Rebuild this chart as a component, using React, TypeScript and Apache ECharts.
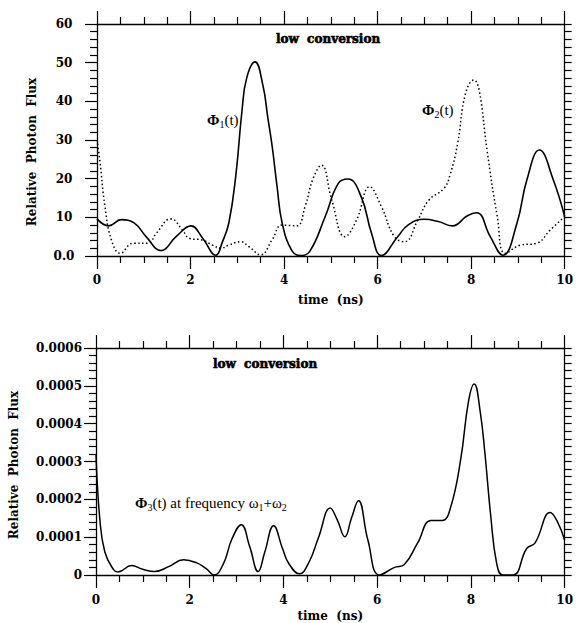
import React, { useEffect, useRef } from "react";
import * as echarts from "echarts";

// ---- data ----
const phi1T = [0, 0.25, 0.52, 0.8, 1.05, 1.37, 1.69, 2.01, 2.26, 2.54, 2.68, 2.82, 2.97, 3.1, 3.2, 3.38, 3.55, 3.65, 3.75, 3.85, 3.96, 4.17, 4.35, 4.55, 4.88, 5.16, 5.37, 5.65, 5.87, 6.08, 6.43, 6.65, 7.0, 7.3, 7.6, 7.92, 8.12, 8.41, 8.68, 8.98, 9.19, 9.46, 9.76, 10];
const phi1V = [9.6, 7.8, 9.4, 8.5, 5.0, 1.4, 5.0, 7.8, 4.6, 0.2, 3.6, 8.6, 21.0, 37.5, 46, 50.2, 44, 36, 28, 18, 8.5, 1.3, 0.1, 1.2, 10.2, 18.8, 19.9, 15.3, 5.9, 0.1, 5.0, 8.0, 9.5, 8.9, 7.8, 10.4, 11.2, 5.0, 0.2, 8.5, 19.6, 27.4, 19.6, 10.2];

const phi2T = [0, 0.06, 0.17, 0.31, 0.5, 0.77, 1.09, 1.27, 1.58, 1.83, 1.97, 2.26, 2.47, 2.65, 2.82, 3.07, 3.25, 3.5, 3.74, 3.96, 4.27, 4.45, 4.62, 4.8, 5.02, 5.3, 5.55, 5.83, 6.08, 6.36, 6.58, 6.86, 7.1, 7.42, 7.55, 7.71, 7.88, 8.06, 8.17, 8.34, 8.56, 8.73, 9.05, 9.4, 9.69, 10];
const phi2V = [30, 24.8, 12.8, 4.1, 0.7, 3.3, 3.3, 5.9, 9.6, 6.7, 4.6, 4.1, 2.8, 2.0, 2.8, 3.7, 2.4, 0.3, 4.1, 8.0, 7.8, 12.8, 20, 23.5, 14.5, 5.0, 9.3, 17.9, 12.8, 5.0, 3.7, 9.3, 14.5, 17.5, 21, 29, 42, 45.5, 43, 27.4, 10.2, 0.7, 2.8, 3.3, 6.7, 10.2];

const phi3T = [0, 0.08, 0.19, 0.37, 0.47, 0.76, 1.0, 1.25, 1.55, 1.87, 2.15, 2.35, 2.52, 2.72, 2.9, 3.1, 3.28, 3.46, 3.6, 3.79, 3.98, 4.11, 4.34, 4.55, 4.75, 5.0, 5.15, 5.31, 5.45, 5.6, 5.8, 6.05, 6.37, 6.58, 6.86, 7.15, 7.39, 7.57, 7.78, 7.95, 8.07, 8.2, 8.3, 8.42, 8.55, 8.68, 8.9, 9.19, 9.37, 9.69, 9.85, 10];
const phi3V = [0.00032, 0.00015, 0.00006, 0.000015, 0.000008, 0.000025, 0.000015, 0.000009, 0.000022, 0.00004, 0.000032, 0.000017, 0, 0.00003, 0.000095, 0.000133, 0.000075, 0.000009, 0.00006, 0.00013, 0.00007, 0.000031, 0.000003, 0.000035, 0.0001, 0.000177, 0.000145, 0.000101, 0.00015, 0.000196, 0.000093, 0, 0.00002, 0.000028, 0.000084, 0.000144, 0.000144, 0.00018, 0.000304, 0.00046, 0.000505, 0.00043, 0.00032, 0.00016, 0.00003, 0, 0, 0.00007, 0.000085, 0.000165, 0.00014, 0.000092];

const xTicks = [0, 10, 2];
const topY = [0, 60, 10];
const botY = [0, 0.0006, 0.0001];

const AX_FONT = "DejaVu Serif";
const TX_FONT = "Liberation Serif";

const pairs = (t: number[], v: number[]) => t.map((x, i) => [x, v[i]]);

const lineBlack = { color: "#000", width: 1.3 };
const tickStyle = { color: "#000", width: 1.2 };

function xAx(grid: number, position: "top" | "bottom", labels: boolean, margin: number) {
  return {
    type: "value",
    gridIndex: grid,
    position,
    min: xTicks[0],
    max: xTicks[1],
    interval: xTicks[2],
    axisLine: { show: true, onZero: false, lineStyle: lineBlack },
    axisTick: { show: true, inside: false, length: 13, lineStyle: tickStyle },
    minorTick: { show: true, splitNumber: 4, length: 7, lineStyle: tickStyle },
    splitLine: { show: false },
    minorSplitLine: { show: false },
    axisLabel: { show: labels, fontFamily: AX_FONT, fontWeight: "bold", fontSize: 12, color: "#000", margin },
    name: labels ? "time\u00a0\u00a0(ns)" : "",
    nameLocation: "middle",
    nameGap: position === "bottom" ? (grid === 0 ? 44 : 41) : 0,
    nameTextStyle: { fontFamily: AX_FONT, fontWeight: "bold", fontSize: 12, color: "#000", verticalAlign: "middle" },
  };
}

function yLeft(grid: number, r: number[], fmt: (v: number) => string, align: string, margin: number) {
  return {
    type: "value",
    gridIndex: grid,
    position: "left",
    min: r[0],
    max: r[1],
    interval: r[2],
    axisLine: { show: true, onZero: false, lineStyle: lineBlack },
    axisTick: { show: true, inside: false, length: 12, lineStyle: tickStyle },
    minorTick: { show: true, splitNumber: 5, length: 7, lineStyle: tickStyle },
    splitLine: { show: false },
    minorSplitLine: { show: false },
    axisLabel: { show: true, formatter: fmt, align, margin, fontFamily: AX_FONT, fontWeight: "bold", fontSize: 12, color: "#000" },
  };
}

function yRight(grid: number, r: number[]) {
  return {
    type: "value",
    gridIndex: grid,
    position: "right",
    min: r[0],
    max: r[1],
    interval: r[2] / 5,
    axisLine: { show: true, onZero: false, lineStyle: lineBlack },
    axisTick: { show: true, inside: false, length: 7, lineStyle: tickStyle },
    splitLine: { show: false },
    axisLabel: { show: false },
  };
}

type Piece = { t: string; size: number; bold?: boolean; dy?: number };

function richText(x0: number, y0: number, pieces: Piece[]) {
  const canvas = document.createElement("canvas");
  const ctx = canvas.getContext("2d")!;
  let x = x0;
  const out: any[] = [];
  for (const p of pieces) {
    const weight = p.bold ? "bold" : "normal";
    ctx.font = `${weight} ${p.size}px "${TX_FONT}"`;
    const w = ctx.measureText(p.t).width;
    out.push({
      type: "text",
      x,
      y: y0 + (p.dy || 0),
      silent: true,
      style: { text: p.t, fontSize: p.size, fontWeight: weight, fontFamily: TX_FONT, fill: "#000", align: "left", verticalAlign: "middle" },
    });
    x += w;
  }
  return out;
}

export default function App() {
  const ref = useRef<HTMLDivElement>(null);
  useEffect(() => {
    if (!ref.current) return;
    const chart = echarts.init(ref.current, undefined, { renderer: "svg" });
    const seriesBase = { type: "line", showSymbol: false, symbol: "none", smooth: 0.45, animation: false };
    const nameStyle = (x: number, y: number) => ({
      type: "text",
      x,
      y,
      rotation: Math.PI / 2,
      silent: true,
      style: { text: "Relative\u00a0\u00a0Photon\u00a0\u00a0Flux", fontFamily: AX_FONT, fontWeight: "bold", fontSize: 12, fill: "#000", align: "center", verticalAlign: "middle" },
    });
    const lowConv = (x: number, y: number) => ({
      type: "text",
      x,
      y,
      silent: true,
      style: { text: "low\u00a0\u00a0conversion", fontFamily: AX_FONT, fontWeight: "bold", fontSize: 12, fill: "#000", stroke: "#000", lineWidth: 0.6, align: "center", verticalAlign: "middle" },
    });
    const option: any = {
      animation: false,
      backgroundColor: "#fff",
      grid: [
        { left: 97, top: 24, width: 471, height: 232 },
        { left: 96, top: 348, width: 472, height: 227 },
      ],
      xAxis: [xAx(0, "bottom", true, 18), xAx(0, "top", false, 0), xAx(1, "bottom", true, 19), xAx(1, "top", false, 0)],
      yAxis: [
        yLeft(0, topY, (v: number) => (v === 0 ? "0.0" : String(Math.round(v))), "center", 33),
        yRight(0, topY),
        yLeft(1, botY, (v: number) => (v === 0 ? "0" : v.toFixed(4)), "right", 14),
        yRight(1, botY),
      ],
      series: [
        { ...seriesBase, name: "phi1", xAxisIndex: 0, yAxisIndex: 0, data: pairs(phi1T, phi1V), lineStyle: { color: "#000", width: 1.6 } },
        { ...seriesBase, name: "phi2", xAxisIndex: 0, yAxisIndex: 0, data: pairs(phi2T, phi2V), lineStyle: { color: "#000", width: 1.5, type: [1.5, 2.5] } },
        { ...seriesBase, name: "phi3", xAxisIndex: 2, yAxisIndex: 2, data: pairs(phi3T, phi3V), lineStyle: { color: "#000", width: 1.5 } },
      ],
      graphic: [
        nameStyle(32, 152),
        nameStyle(14, 465),
        lowConv(328, 39),
        lowConv(265, 364),
        ...richText(207, 120, [
          { t: "Φ", size: 15, bold: true },
          { t: "1", size: 10, dy: 4 },
          { t: "(t)", size: 15 },
        ]),
        ...richText(422, 110, [
          { t: "Φ", size: 15, bold: true },
          { t: "2", size: 10, dy: 4 },
          { t: "(t)", size: 15 },
        ]),
        ...richText(135, 503, [
          { t: "Φ", size: 15, bold: true },
          { t: "3", size: 10, dy: 4 },
          { t: "(t) at frequency ", size: 15 },
          { t: "ω", size: 15 },
          { t: "1", size: 10, dy: 4 },
          { t: "+", size: 15 },
          { t: "ω", size: 15 },
          { t: "2", size: 10, dy: 4 },
        ]),
      ],
    };
    chart.setOption(option);
    return () => chart.dispose();
  }, []);
  return <div ref={ref} style={{ position: "fixed", left: 0, top: 0, width: 576, height: 623, background: "#fff" }} />;
}
